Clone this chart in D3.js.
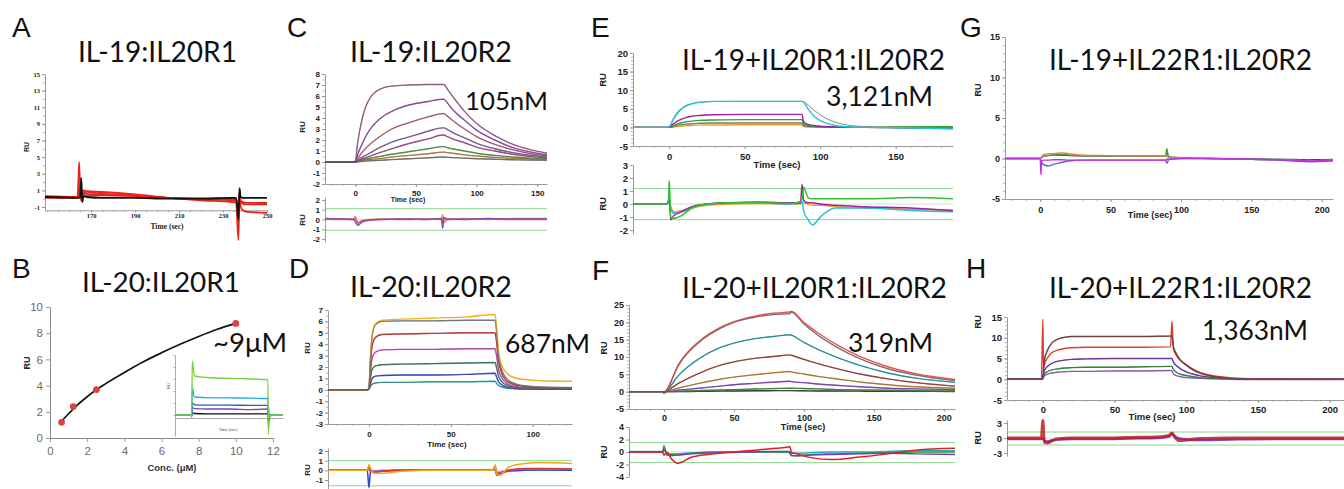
<!DOCTYPE html>
<html>
<head>
<meta charset="utf-8">
<script src="https://cdn.jsdelivr.net/npm/d3@7"></script>
<style>
  body { margin: 0; background: #fff; }
  svg { display: block; }
</style>
</head>
<body>
<script>
// ---------- data ----------
// A: IL-19:IL20R1 (time, RU)
const A_t     = [149,163,164,164.5,165,165.5,166,166.5,168,175,190,205,220,234,236,237,237.5,238,239,241,250];
const A_red1  = [0.2,0.2,0.3,4.4,1.0,-0.3,0.9,1.0,0.9,0.8,0.5,0.1,-0.2,-0.4,-0.5,-5.0,1.3,-1.0,-1.4,-1.6,-1.7];
const A_red2  = [0.1,0.1,0.2,3.0,0.5,0.2,0.6,0.8,0.8,0.6,0.4,0.1,-0.1,-0.2,-0.3,-3.0,0.8,-0.4,-0.5,-0.5,-0.6];
const A_red3  = [0.2,0.2,0.2,2.0,0.4,0.3,0.5,0.7,0.6,0.5,0.4,0.1,0,-0.1,-0.2,-2.0,0.5,-0.3,-0.6,-0.7,-0.7];
const A_red4  = [0.3,0.2,0.2,1.2,0.3,0.2,0.4,0.5,0.4,0.4,0.3,0.1,0,0,-0.1,-1.0,0.3,-0.2,-0.4,-0.5,-0.5];
const A_black = [0.2,0.1,0.1,0.1,0.2,2.5,-0.4,0.3,0.2,0.1,0.1,0,0,0.1,0.1,-2.5,1.2,0.2,0.1,0.1,0.1];

// B: IL-20:IL20R1 steady state
const B_conc = [0.625,1.25,2.5,10];
const B_ru   = [1.2,2.4,3.7,8.75];
const B_fitC = [0.6,1,1.5,2,2.5,3,4,5,6,7,8,9,10];
const B_fitR = [1.25,1.85,2.55,3.15,3.7,4.15,5.0,5.8,6.5,7.15,7.75,8.3,8.75];
// B inset sensorgram
const Bi_t      = [0,15,15.5,16,18,30,50,70,85,86,86.5,87,88,90,100];
const Bi_green  = [0,0,-1,18,13,12.5,12.2,12,11.8,11.8,-6.5,0,-0.5,0,0];
const Bi_cyan   = [0,0,-0.5,9,6,5.8,5.7,5.6,5.5,5.5,-5,-1,0,0,0];
const Bi_blue   = [0,0,-0.5,4,3.4,3.3,3.3,3.2,3.2,3.2,-3,-0.5,0,0,0];
const Bi_purple = [0,0,-0.3,2.5,2.1,2.0,2.0,1.8,2.0,2.0,-2,0,0,0,0];
const Bi_black  = [0,0,-0.3,0.8,0.5,0.4,0.4,0.4,0.4,0.4,3,-2,0,0,0];

// C: IL-19:IL20R2
const C_t  = [-25,-1,0,2,5,10,20,30,45,60,72,73,76,80,90,100,115,130,145,158];
const C1 = [0,0,0.1,1.8,3.6,5.4,6.6,6.9,7.0,7.05,7.05,7.05,6.6,6.0,4.6,3.5,2.4,1.6,1.1,0.8];
const C2 = [0,0,0.05,0.7,1.5,2.6,3.9,4.6,5.2,5.5,5.7,5.7,5.35,4.8,3.8,2.9,2.0,1.3,0.9,0.65];
const C3 = [0,0,0.05,0.35,0.8,1.4,2.3,3.0,3.6,4.1,4.4,4.4,4.15,3.8,3.0,2.3,1.6,1.1,0.75,0.55];
const C4 = [0,0,0,0.2,0.4,0.7,1.3,1.8,2.3,2.8,3.1,3.1,2.95,2.7,2.2,1.7,1.2,0.85,0.6,0.45];
const C5 = [0,0,0,0.1,0.25,0.45,0.85,1.2,1.7,2.1,2.45,2.45,2.3,2.1,1.75,1.35,1.0,0.7,0.5,0.4];
const C6 = [0,0,0,0.05,0.15,0.3,0.5,0.7,0.95,1.2,1.4,1.4,1.3,1.2,1.0,0.8,0.6,0.45,0.35,0.3];
const C7 = [0,0,0,0.03,0.1,0.2,0.3,0.45,0.6,0.75,0.9,0.9,0.85,0.8,0.65,0.55,0.42,0.33,0.27,0.22];
const C8 = [0,0,0,0.02,0.05,0.1,0.15,0.22,0.3,0.38,0.45,0.45,0.42,0.4,0.35,0.3,0.25,0.2,0.18,0.15];
const Cr_t = [-25,-2,0,2,5,10,20,40,60,71,72,73,76,90,110,130,158];
const Cr1  = [0.1,0,-0.2,-0.6,-0.3,-0.1,0,0.05,0,0.1,-0.9,0.2,0.05,0,0.1,0.05,0.05];
const Cr2  = [0,0,0.3,-0.4,-0.1,0,0.05,0,0.05,0,0.5,-0.3,0,0.1,0,0.1,0.1];
const Cr3  = [0.05,0.05,0.1,-0.3,-0.2,-0.05,0,0.05,0.05,0.05,-0.4,0.1,0,0.05,0.05,0,0];

// D: IL-20:IL20R2
const D_t     = [-25,-1,0,1,2,4,8,20,40,60,77,78,79,81,84,88,95,105,124];
const D_gold  = [0,0,0.2,3.0,4.8,5.8,6.1,6.2,6.3,6.4,6.6,5.4,3.6,2.2,1.5,1.1,0.9,0.8,0.75];
const D_gray  = [0,0,0.2,3.0,4.8,5.7,6.0,6.05,6.05,6.1,6.1,5.0,3.2,1.8,1.0,0.6,0.35,0.25,0.2];
const D_red   = [0,0,0.15,2.4,3.9,4.6,4.85,4.9,4.95,5.0,5.0,4.1,2.7,1.5,0.8,0.5,0.3,0.2,0.15];
const D_mag   = [0,0,0.1,1.7,2.8,3.3,3.5,3.55,3.55,3.6,3.6,2.9,1.9,1.1,0.6,0.35,0.2,0.15,0.1];
const D_green = [0,0,0.1,1.1,1.8,2.1,2.2,2.25,2.3,2.35,2.4,1.9,1.25,0.75,0.4,0.25,0.15,0.1,0.1];
const D_blue  = [0,0,0.05,0.6,1.0,1.2,1.25,1.3,1.3,1.35,1.45,1.1,0.75,0.45,0.25,0.15,0.1,0.05,0.05];
const D_cyan  = [0,0,0.05,0.3,0.5,0.6,0.65,0.65,0.7,0.7,0.75,0.55,0.4,0.25,0.15,0.1,0.05,0.05,0.05];
const Dr_t    = [-25,-1,0,1,3,8,20,40,60,76,77,78,80,85,95,105,124];
const Dr_gold = [0,0,0.6,0.2,-0.3,-0.3,-0.1,0,0,0,0.6,-0.4,-0.5,0.3,0.7,0.8,0.7];
const Dr_red  = [0,0,0.4,-0.1,-0.2,-0.1,0,0,0,0,0.5,-0.3,-0.4,0,0.2,0.2,0.15];
const Dr_mag  = [0,0,0.3,0.1,-0.1,-0.1,0,0,0,0.05,0.3,-0.2,-0.3,-0.05,0.1,0.1,0.1];
const Dr_blue = [0,0,-1.8,0,-0.2,-0.1,0,0,0.05,0,0.2,-0.5,-0.3,-0.1,0,0.05,0];
const Dr_cyan = [0.05,0.05,0.1,0,-0.1,0,0,0,0,0,0.1,-0.2,-0.2,0,0,0,0];

// E: IL-19+IL20R1:IL20R2
const E_t      = [-24,-1,0,3,6,10,15,20,30,50,70,88,89,92,96,100,105,110,120,130,150,188];
const E_cyan   = [0,0,0.2,2.5,4.2,5.6,6.4,6.8,7.0,7.0,7.0,7.0,6.8,5.0,3.0,1.8,1.0,0.5,0.1,0,-0.1,-0.4];
const E_fit    = [0,0,0.1,2.2,3.9,5.4,6.3,6.7,6.95,7.0,7.0,7.0,6.9,6.0,4.6,3.4,2.2,1.4,0.5,0.2,0,-0.2];
const E_purple = [0,0,0.1,1.0,1.8,2.5,3.0,3.2,3.4,3.5,3.5,3.5,1.5,0.8,0.5,0.3,0.2,0.1,0,0,-0.1,-0.3];
const E_green  = [0,0,0,0.5,1.0,1.4,1.7,1.9,2.0,2.1,2.1,2.1,0.9,0.5,0.3,0.2,0.1,0.05,0,0,0.1,0.2];
const E_gray   = [0,0,0,0.3,0.6,0.8,1.0,1.1,1.2,1.2,1.2,1.2,0.5,0.3,0.2,0.1,0.05,0,0,0,0,0];
const E_orange = [0,0,0,0.1,0.3,0.4,0.5,0.6,0.65,0.7,0.7,0.7,0.2,0.1,0.05,0,0,0,0,0,0,-0.1];
const Er_t      = [-24,-2,-0.5,0,1,3,8,15,25,40,60,80,87,88,89,92,95,100,110,130,160,188];
const Er_green  = [0,0,0.3,1.8,-1.0,-1.1,-0.9,-0.3,0,0.1,0.1,0.05,0.2,0.4,1.3,0.5,0.4,0.4,0.4,0.4,0.5,0.4];
const Er_purple = [0,0,0.2,0.5,-1.2,-0.9,-0.6,-0.2,0,0.1,0.15,0.1,0.1,1.5,0.3,0.1,0.1,0,-0.1,-0.2,-0.3,-0.5];
const Er_cyan   = [0,0,0.1,0.2,-0.3,-0.7,-0.6,-0.3,0,0.1,0.1,0,0.1,0.2,-0.5,-1.2,-1.6,-1.0,-0.3,-0.3,-0.5,-0.6];
const Er_orange = [0,0,0.1,0.1,-0.2,-0.6,-0.5,-0.3,-0.1,0,0.05,0,0,0.1,0.1,0,-0.1,-0.1,-0.2,-0.3,-0.4,-0.5];

// F: IL-20+IL20R1:IL20R2
const F_t      = [-25,-1,0,2,10,25,40,50,65,80,90,91,100,110,125,140,160,180,208];
const F_red    = [0,0,-0.5,0.5,7.5,14.5,18.5,20.2,21.8,22.7,23.0,23.2,20.0,17.0,13.2,10.2,7.2,5.2,3.5];
const F_gray   = [0,0,-0.5,0.5,7.3,14.2,18.2,20.0,21.5,22.3,22.5,23.0,19.5,16.3,12.5,9.5,6.6,4.8,3.2];
const F_cyan   = [0,0,-0.3,0.3,4.5,9.5,12.7,14.0,15.3,16.0,16.4,16.3,14.2,12.2,9.7,7.6,5.4,3.9,2.7];
const F_brown  = [0,0,-0.2,0.2,2.3,5.3,7.6,8.6,9.6,10.2,10.6,10.5,9.3,8.1,6.5,5.1,3.7,2.6,1.6];
const F_orange = [0,0,-0.1,0.1,1.0,2.4,3.6,4.2,4.9,5.5,5.8,5.7,5.1,4.4,3.6,2.8,2.0,1.4,1.0];
const F_purple = [0,0,0,0,0.4,1.0,1.6,2.0,2.4,2.8,3.0,2.9,2.6,2.2,1.8,1.4,1.0,0.8,0.6];
const F_green  = [0,0,0,0,0.1,0.3,0.5,0.6,0.75,0.9,1.0,1.0,0.9,0.8,0.6,0.5,0.4,0.3,0.2];
const F_black  = [0,0,0,0,0,0.1,0.15,0.2,0.25,0.3,0.3,0.3,0.25,0.2,0.2,0.15,0.1,0.1,0.05];
const Fr_t      = [-25,-1,0,2,5,10,20,40,60,80,89,90,91,95,105,120,140,160,180,208];
const Fr_red    = [0,0,-0.5,0,-1.0,-1.8,-0.8,-0.2,0.2,0.6,0.8,0.9,0,-0.3,-0.9,-1.2,-0.8,-0.3,0.3,0.6];
const Fr_purple = [0,0,0.5,-0.3,-0.6,-0.5,-0.3,-0.1,0,0.1,0.1,0,-0.5,-0.6,-0.5,-0.4,-0.3,-0.2,-0.3,-0.4];
const Fr_green  = [0,0,1.0,-0.5,-0.4,-0.4,-0.2,0,0,0,0,-0.3,-0.6,-0.6,-0.4,-0.3,-0.2,-0.1,0,0];
const Fr_cyan   = [0.1,0.1,0.3,-0.2,-0.3,-0.3,-0.1,0,0,0,0,0.1,-0.2,-0.2,-0.1,0,0,0.1,0.2,0.2];

// G: IL-19+IL22R1:IL20R2
const G_t      = [-25,-1,0,0.5,1,3,6,10,15,20,30,50,70,89,90,91,92,100,120,150,180,190,208];
const G_orange = [0,0,0,0,0.2,0.5,0.6,0.6,0.7,0.6,0.4,0.35,0.3,0.3,0.2,0.2,0.15,0.1,0,-0.1,-0.2,-0.3,-0.2];
const G_green  = [0,0,0,0,0.1,0.3,0.4,0.45,0.5,0.45,0.35,0.3,0.3,0.3,1.2,0.3,0.2,0.1,0,-0.1,-0.2,-0.3,-0.2];
const G_blue   = [0,0,0,-0.3,-0.5,-0.8,-0.9,-0.7,-0.5,-0.3,-0.2,-0.2,-0.2,-0.2,-0.1,-0.1,-0.1,0,0,-0.1,-0.3,-0.4,-0.3];
const G_mag    = [0,0,0,-2.0,-0.3,-0.2,-0.2,-0.15,-0.15,-0.2,-0.2,-0.2,-0.2,-0.2,-0.6,-0.2,-0.1,0,0,-0.1,-0.2,-0.3,-0.2];
const G_black  = [0,0,0,0,0.1,0.3,0.35,0.4,0.4,0.35,0.3,0.3,0.3,0.3,0.9,0.2,0.1,0.05,0,-0.05,-0.1,-0.15,-0.1];

// H: IL-20+IL22R1:IL20R2
const H_t      = [-25,-1,0,0.5,1,3,6,10,15,20,30,50,70,89,90,91,93,96,100,105,110,120,130,150,210];
const H_dark   = [0,0,0.5,3.0,4.5,6.8,8.6,9.6,10.1,10.3,10.3,10.3,10.3,10.4,10.4,8.0,6.2,4.6,3.4,2.2,1.4,0.6,0.2,0,0];
const H_red    = [0,0,14.5,2.3,3.4,5.0,6.3,7.0,7.4,7.6,7.7,7.7,7.7,7.8,14.0,7.5,5.8,4.5,3.5,2.4,1.6,0.8,0.4,0.1,0];
const H_purple = [0,0,0.3,1.4,2.0,3.0,3.8,4.3,4.6,4.8,4.9,5.0,5.0,5.0,5.0,4.2,3.3,2.5,1.8,1.2,0.8,0.4,0.2,0,0];
const H_green  = [0,0,0.2,0.8,1.2,1.8,2.2,2.5,2.7,2.8,2.9,2.9,3.0,3.1,3.1,2.4,1.7,1.2,0.9,0.6,0.4,0.2,0.1,0,0];
const H_violet = [0,0,0.1,0.5,0.8,1.2,1.5,1.7,1.8,1.9,1.9,2.0,2.0,2.1,2.0,1.3,0.9,0.6,0.4,0.3,0.2,0.1,0,-0.1,-0.1];
const Hr_t      = [-25,-1,0,1,3,6,10,20,40,60,80,88,90,92,95,100,110,130,160,210];
const Hr_red    = [0,0,3.5,-0.8,-1.0,-0.6,-0.2,0,0,0.1,0.2,0.5,1.0,0.2,-0.5,-0.4,-0.1,0,0,0];
const Hr_purple = [-0.2,-0.2,0,-0.5,-0.7,-0.5,-0.3,-0.2,-0.2,-0.1,0,0.3,0.8,0.3,-0.1,-0.3,-0.4,-0.3,-0.2,-0.2];

// ---------- drawing ----------
const svg = d3.select('body').append('svg').attr('width', 1344).attr('height', 489);
const SANS = '"Liberation Sans", Arial, sans-serif';
const SERIF = '"Liberation Serif", "DejaVu Serif", serif';
const TITLE = 'Lato, "Open Sans", sans-serif';
const AXC = '#9a9a9a';

const pts = (ts, vs) => ts.map((t, i) => [t, vs[i]]);
const minorRange = (dom, step) => d3.range(Math.ceil(dom[0] / step) * step, dom[1] + 1e-9, step);

// big text scaled so it spans x1..x2
function fitText(str, x1, x2, base, family, size0) {
  const t = svg.append('text').attr('x', x1).attr('y', base)
    .attr('font-family', family).attr('font-size', size0).attr('fill', '#111').text(str);
  const w = t.node().getBBox().width;
  t.attr('font-size', size0 * (x2 - x1) / w);
  return t;
}

function styleAxis(sel, fs, fam, weight, color) {
  sel.select('.domain').attr('stroke', AXC).attr('stroke-width', 1);
  sel.selectAll('.tick line').attr('stroke', AXC);
  sel.selectAll('.tick text').attr('font-family', fam).attr('font-size', fs)
    .attr('font-weight', weight || 'bold').attr('fill', color || '#222');
}

function ruLabel(g, x, y, fs) {
  g.append('text').attr('transform', `translate(${x},${y}) rotate(-90)`)
    .attr('text-anchor', 'middle').attr('font-family', SANS).attr('font-weight', 'bold')
    .attr('font-size', fs).attr('fill', '#222').text('RU');
}

function sensor(o) {
  const g = svg.append('g');
  const fam = o.family || SANS;
  const x = d3.scaleLinear().domain(o.xDom).range(o.xRange);
  const y = d3.scaleLinear().domain(o.yDom).range(o.yRange);
  const fmt = d => String(d);

  // minor ticks
  g.append('g').attr('transform', `translate(0,${o.yRange[0]})`)
    .call(d3.axisBottom(x).tickValues(minorRange(o.xDom, o.xMinor)).tickSize(2).tickFormat(''))
    .call(s => { s.select('.domain').remove(); s.selectAll('line').attr('stroke', '#b5b5b5'); });
  g.append('g').attr('transform', `translate(${o.xRange[0]},0)`)
    .call(d3.axisLeft(y).tickValues(minorRange(o.yDom, o.yMinor)).tickSize(2).tickFormat(''))
    .call(s => { s.select('.domain').remove(); s.selectAll('line').attr('stroke', '#b5b5b5'); });

  const xa = g.append('g').attr('transform', `translate(0,${o.yRange[0]})`)
    .call(d3.axisBottom(x).tickValues(o.xTicks).tickSize(o.xTick || 3).tickSizeOuter(0)
      .tickPadding(o.xPad == null ? 3 : o.xPad).tickFormat(fmt));
  styleAxis(xa, o.fs, fam);
  const ya = g.append('g').attr('transform', `translate(${o.xRange[0]},0)`)
    .call(d3.axisLeft(y).tickValues(o.yTicks).tickSize(3).tickSizeOuter(0).tickPadding(2).tickFormat(fmt));
  styleAxis(ya, o.fs, fam);

  ruLabel(g, o.ru[0], o.ru[1], o.ruFs || o.fs);
  g.append('text').attr('x', o.time[0]).attr('y', o.time[1]).attr('text-anchor', 'middle')
    .attr('font-family', fam).attr('font-weight', 'bold').attr('font-size', o.timeFs || o.fs)
    .attr('fill', '#222').text('Time (sec)');

  const line = d3.line().x(d => x(d[0])).y(d => y(d[1])).curve(d3.curveMonotoneX);
  o.curves.forEach(c => {
    g.append('path').attr('d', line(pts(o.t, c.v))).attr('fill', 'none')
      .attr('stroke', c.color).attr('stroke-width', c.w || 1.4).attr('stroke-linejoin', 'round')
      .attr('opacity', c.op || 1);
  });
  if (o.fit) o.curves.forEach(c => {
    if (c.fit === false) return;
    g.append('path').attr('d', line(pts(o.t, c.v))).attr('fill', 'none')
      .attr('stroke', '#5a5a5a').attr('stroke-width', 0.6).attr('opacity', 0.8);
  });

  if (o.res) {
    const r = o.res;
    const yr = d3.scaleLinear().domain(r.yDom).range(r.yRange);
    r.green.forEach(v => g.append('line')
      .attr('x1', o.xRange[0]).attr('x2', o.xRange[1]).attr('y1', yr(v)).attr('y2', yr(v))
      .attr('stroke', '#8ad68a').attr('stroke-width', 1));
    g.append('line').attr('x1', o.xRange[0]).attr('x2', o.xRange[1]).attr('y1', yr(0)).attr('y2', yr(0))
      .attr('stroke', '#cfcfcf').attr('stroke-width', 0.8);
    const ra = g.append('g').attr('transform', `translate(${o.xRange[0]},0)`)
      .call(d3.axisLeft(yr).tickValues(r.ticks).tickSize(3).tickSizeOuter(0).tickPadding(2).tickFormat(fmt));
    styleAxis(ra, o.fs, fam);
    ruLabel(g, o.ru[0], r.ruY, o.ruFs || o.fs);
    const rline = d3.line().x(d => x(d[0])).y(d => yr(d[1])).curve(d3.curveMonotoneX);
    r.curves.forEach(c => {
      g.append('path').attr('d', rline(pts(r.t, c.v))).attr('fill', 'none')
        .attr('stroke', c.color).attr('stroke-width', c.w || 1.5).attr('opacity', c.op || 1);
    });
  }
  return g;
}

// ---- A ----
sensor({
  xDom: [149, 250], xRange: [45, 267], yDom: [-1.4, 15], yRange: [210.3, 74],
  xTicks: [170, 190, 210, 230, 250], yTicks: d3.range(-1, 16, 2), xMinor: 5, yMinor: 1,
  fs: 6.5, family: SERIF, ru: [29, 147], ruFs: 7, time: [167, 229], timeFs: 7.5, xTick: 2, xPad: 1,
  t: A_t,
  curves: [
    { v: A_red4, color: '#e8231c', w: 1.6 },
    { v: A_red3, color: '#e8231c', w: 1.6 },
    { v: A_red2, color: '#e8231c', w: 1.6 },
    { v: A_red1, color: '#e8231c', w: 1.8 },
    { v: A_black, color: '#111', w: 1.8 },
  ],
});

// ---- B ----
(function () {
  const g = svg.append('g');
  const x = d3.scaleLinear().domain([0, 12]).range([50, 273]);
  const y = d3.scaleLinear().domain([0, 10]).range([438, 307]);
  const xa = g.append('g').attr('transform', 'translate(0,438)')
    .call(d3.axisBottom(x).tickValues(d3.range(0, 13, 2)).tickSize(4).tickSizeOuter(0).tickPadding(5));
  styleAxis(xa, 11.5, SANS, 'normal', '#6a6a6a');
  const ya = g.append('g').attr('transform', 'translate(50,0)')
    .call(d3.axisLeft(y).tickValues(d3.range(0, 11, 2)).tickSize(4).tickSizeOuter(0).tickPadding(3));
  styleAxis(ya, 11.5, SANS, 'normal', '#6a6a6a');
  g.selectAll('.domain').attr('stroke', '#8a8a8a');
  ruLabel(g, 30, 363, 9);
  g.append('text').attr('x', 172).attr('y', 471).attr('text-anchor', 'middle')
    .attr('font-family', SANS).attr('font-weight', 'bold').attr('font-size', 9.5).attr('fill', '#333')
    .text('Conc. (μM)');
  const line = d3.line().x(d => x(d[0])).y(d => y(d[1])).curve(d3.curveMonotoneX);
  g.append('path').attr('d', line(pts(B_fitC, B_fitR))).attr('fill', 'none')
    .attr('stroke', '#111').attr('stroke-width', 1.7);
  g.selectAll('circle.pt').data(pts(B_conc, B_ru)).join('circle').attr('class', 'pt')
    .attr('cx', d => x(d[0])).attr('cy', d => y(d[1])).attr('r', 3.4).attr('fill', '#d8463c');

  // inset sensorgram
  const ix = d3.scaleLinear().domain([0, 100]).range([175, 283]);
  const iy = d3.scaleLinear().domain([-7, 20]).range([436, 355]);
  const ixa = g.append('g').attr('transform', 'translate(0,418)')
    .call(d3.axisBottom(ix).tickValues([10, 30, 50, 70, 90]).tickSize(1.5).tickSizeOuter(0).tickFormat(''));
  const iya = g.append('g').attr('transform', 'translate(175,0)')
    .call(d3.axisLeft(iy).tickValues([0, 4, 8, 12, 16, 20]).tickSize(1.5).tickSizeOuter(0).tickFormat(''));
  [ixa, iya].forEach(s => { s.select('.domain').attr('stroke', '#aaa'); s.selectAll('line').attr('stroke', '#aaa'); });
  g.append('text').attr('x', 228).attr('y', 431).attr('text-anchor', 'middle')
    .attr('font-family', SANS).attr('font-size', 4).attr('fill', '#444').text('Time (sec)');
  g.append('text').attr('transform', 'translate(170,386) rotate(-90)').attr('text-anchor', 'middle')
    .attr('font-family', SANS).attr('font-size', 4).attr('fill', '#444').text('RU');
  const iline = d3.line().x(d => ix(d[0])).y(d => iy(d[1])).curve(d3.curveMonotoneX);
  [[Bi_black, '#111'], [Bi_purple, '#7e3fc0'], [Bi_blue, '#2f5fa8'], [Bi_cyan, '#23a8e6'], [Bi_green, '#7ccf3a']]
    .forEach(([v, c]) => g.append('path').attr('d', iline(pts(Bi_t, v))).attr('fill', 'none')
      .attr('stroke', c).attr('stroke-width', 1.3));
})();

// ---- C ----
sensor({
  xDom: [-25, 158], xRange: [325, 547], yDom: [-2, 8], yRange: [184, 74],
  xTicks: [0, 50, 100, 150], yTicks: d3.range(-2, 9), xMinor: 10, yMinor: 0.5,
  fs: 8, ru: [305, 127], time: [408, 202], timeFs: 7, fit: true,
  t: C_t,
  curves: [
    { v: C8, color: '#7a7a7a' }, { v: C7, color: '#e08a30' }, { v: C6, color: '#4faa4f' },
    { v: C5, color: '#b05090' }, { v: C4, color: '#9060b0' }, { v: C3, color: '#c06080' },
    { v: C2, color: '#9a4fb5' }, { v: C1, color: '#b0609a' },
  ],
  res: {
    yDom: [-2.3, 2.3], yRange: [242, 197], ticks: [-2, -1, 0, 1, 2], green: [1.1, -1.1], ruY: 220,
    t: Cr_t,
    curves: [{ v: Cr2, color: '#e89040' }, { v: Cr3, color: '#d060a0' }, { v: Cr1, color: '#8a48b0' }],
  },
});

// ---- D ----
sensor({
  xDom: [-25, 124], xRange: [328, 572], yDom: [-3, 7], yRange: [424, 310],
  xTicks: [0, 50, 100], yTicks: d3.range(-3, 8), xMinor: 10, yMinor: 0.5,
  fs: 8, ru: [310, 348], time: [447, 447], timeFs: 8, fit: true, xPad: 4,
  t: D_t,
  curves: [
    { v: D_cyan, color: '#1fb3b3' }, { v: D_blue, color: '#2f3fe0' }, { v: D_green, color: '#2e8b57' },
    { v: D_mag, color: '#e040e0' }, { v: D_red, color: '#d83030' }, { v: D_gray, color: '#8a8a8a' },
    { v: D_gold, color: '#f0b020', fit: false },
  ],
  res: {
    yDom: [-1.9, 2.3], yRange: [488.7, 448.1], ticks: [-1, 0, 1, 2], green: [1.0, -1.6], ruY: 470,
    t: Dr_t,
    curves: [
      { v: Dr_cyan, color: '#1fb3b3' }, { v: Dr_blue, color: '#3040e0' }, { v: Dr_mag, color: '#e040e0' },
      { v: Dr_red, color: '#e03030' }, { v: Dr_gold, color: '#f0a818' },
    ],
  },
});

// ---- E ----
sensor({
  xDom: [-24, 188], xRange: [633, 953], yDom: [-5, 20], yRange: [146, 53],
  xTicks: [0, 50, 100, 150], yTicks: d3.range(-5, 21, 5), xMinor: 10, yMinor: 1,
  fs: 9.5, ru: [606, 80], time: [777, 168], timeFs: 9.5, xPad: 4,
  t: E_t,
  curves: [
    { v: E_orange, color: '#f0a020' }, { v: E_gray, color: '#777' }, { v: E_green, color: '#30a030' },
    { v: E_purple, color: '#a020a0' }, { v: E_fit, color: '#888', w: 1 }, { v: E_cyan, color: '#22c4d4' },
  ],
  res: {
    yDom: [-2.3, 3], yRange: [234, 165], ticks: [-2, -1, 0, 1, 2, 3], green: [1.2, -1.2], ruY: 204,
    t: Er_t,
    curves: [
      { v: Er_orange, color: '#f0a020' }, { v: Er_cyan, color: '#22c4d4' },
      { v: Er_purple, color: '#a020a0' }, { v: Er_green, color: '#30c030' },
    ],
  },
});

// ---- F ----
sensor({
  xDom: [-25, 208], xRange: [629, 955], yDom: [-5, 25], yRange: [409, 305],
  xTicks: [0, 50, 100, 150, 200], yTicks: d3.range(-5, 26, 5), xMinor: 10, yMinor: 1,
  fs: 9, ru: [607, 348], time: [803, 430], timeFs: 9, xPad: 3, fit: true,
  t: F_t,
  curves: [
    { v: F_black, color: '#333' }, { v: F_green, color: '#30a030' }, { v: F_purple, color: '#9040e0' },
    { v: F_orange, color: '#d09030' }, { v: F_brown, color: '#b03a30' }, { v: F_cyan, color: '#20a8b8' },
    { v: F_gray, color: '#888' }, { v: F_red, color: '#f05050', fit: false },
  ],
  res: {
    yDom: [-4, 4], yRange: [477, 427], ticks: [-4, -2, 0, 2, 4], green: [1.5, -1.7], ruY: 452,
    t: Fr_t,
    curves: [
      { v: Fr_cyan, color: '#20b0c0' }, { v: Fr_green, color: '#30a030' },
      { v: Fr_purple, color: '#7040c0' }, { v: Fr_red, color: '#e02020' },
    ],
  },
});

// ---- G ----
sensor({
  xDom: [-25, 208], xRange: [1005, 1333], yDom: [-5, 15], yRange: [199, 37],
  xTicks: [0, 50, 100, 150, 200], yTicks: d3.range(-5, 16, 5), xMinor: 10, yMinor: 1,
  fs: 9, ru: [981, 90], time: [1150, 218], timeFs: 9, xPad: 5,
  t: G_t,
  curves: [
    { v: G_black, color: '#333', w: 1 }, { v: G_green, color: '#40a040' }, { v: G_orange, color: '#e08040' },
    { v: G_blue, color: '#6060e0' }, { v: G_mag, color: '#c030e0' },
  ],
});

// ---- H ----
sensor({
  xDom: [-25, 210], xRange: [1007, 1344], yDom: [-5, 15], yRange: [400, 317],
  xTicks: [0, 50, 100, 150, 200], yTicks: d3.range(-5, 16, 5), xMinor: 10, yMinor: 1,
  fs: 9.5, ru: [981, 322], time: [1152, 420], timeFs: 9.5, xPad: 3, fit: true,
  t: H_t,
  curves: [
    { v: H_violet, color: '#a060f0' }, { v: H_green, color: '#20a020' }, { v: H_purple, color: '#7a20c0' },
    { v: H_red, color: '#e03a2a', fit: false }, { v: H_dark, color: '#7a3030' },
  ],
  res: {
    yDom: [-3.6, 3.6], yRange: [456, 420], ticks: [-3, 0, 3], green: [1.2, -1.4], ruY: 438,
    t: Hr_t,
    curves: [{ v: Hr_purple, color: '#7a40d0', w: 2.5 }, { v: Hr_red, color: '#c02020', w: 3, op: 0.85 }],
  },
});

// ---- titles, affinities and panel letters ----
fitText('IL-19:IL20R1', 78, 237, 62, TITLE, 28);
fitText('IL-20:IL20R1', 82, 240, 292, TITLE, 28);
fitText('IL-19:IL20R2', 350, 512, 62, TITLE, 28);
fitText('IL-20:IL20R2', 350, 512, 297, TITLE, 28);
fitText('IL-19+IL20R1:IL20R2', 682, 945, 70, TITLE, 28);
fitText('IL-20+IL20R1:IL20R2', 682, 947, 298, TITLE, 28);
fitText('IL-19+IL22R1:IL20R2', 1049, 1312, 70, TITLE, 28);
fitText('IL-20+IL22R1:IL20R2', 1049, 1312, 298, TITLE, 28);

fitText('~9μM', 213, 287, 352, TITLE, 28);
fitText('105nM', 465, 548, 110, TITLE, 28);
fitText('687nM', 505, 590, 353, TITLE, 28);
fitText('3,121nM', 826, 933, 106, TITLE, 28);
fitText('319nM', 848, 933, 352, TITLE, 28);
fitText('1,363nM', 1202, 1308, 340, TITLE, 28);

[['A', 12, 37], ['B', 12, 278], ['C', 287, 37], ['D', 289, 278],
 ['E', 591, 37], ['F', 592, 280], ['G', 960, 37], ['H', 966, 278]]
  .forEach(([s, x, y]) => svg.append('text').attr('x', x).attr('y', y)
    .attr('font-family', SANS).attr('font-size', 28).attr('fill', '#111').text(s));
</script>
</body>
</html>
